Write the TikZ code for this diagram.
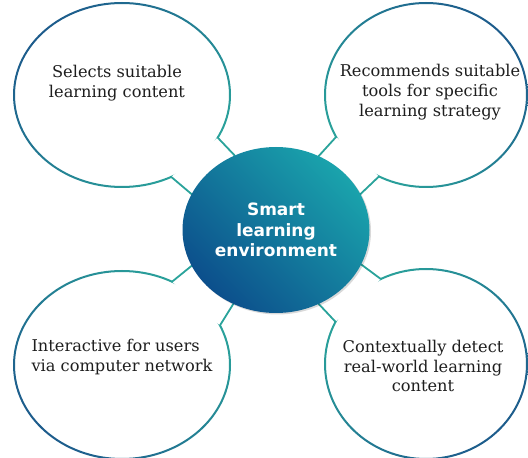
\documentclass[tikz,border=0pt]{standalone}
\usepackage{fontspec}
\setmainfont{DejaVu Serif}
\newfontfamily\censans{DejaVu Sans}
\usetikzlibrary{shapes.geometric,backgrounds,shadows}
\definecolor{deepblue}{HTML}{0C4F8C}
\definecolor{tealtop}{HTML}{1AA3AC}
\definecolor{rimblue}{HTML}{1D5C8C}
\definecolor{rimteal}{HTML}{2AA39B}
\definecolor{txt}{HTML}{1E1E1E}
\begin{document}
\begin{tikzpicture}[x=1pt,y=1pt,
  bubble/.style={ellipse, fill=white, inner sep=0pt, outer sep=0pt},
  btext/.style={font=\fontsize{16.2}{19.8}\selectfont, text=txt, align=center, inner sep=0pt},
  tail/.style={draw=rimteal, line width=1.8pt, line cap=round},
  gapfill/.style={fill=white},
  hub/.style={ellipse, inner sep=0pt, outer sep=0pt, left color=deepblue, right color=tealtop, shading angle=135,
    drop shadow={shadow xshift=1.5pt, shadow yshift=-1.5pt, opacity=0.15, fill=black},
    font=\censans\bfseries\fontsize{17}{20.5}\selectfont, text=white, align=center}
]
\useasboundingbox (0,0) rectangle (528,458);
\node[hub, minimum width=187pt, minimum height=166pt] (c) at (276,228) {Smart\\learning\\environment};
\begin{scope}[on background layer]
  \node[bubble, minimum width=216pt, minimum height=184pt] (tl) at (122,363) {};
  \node[bubble, minimum width=202pt, minimum height=184pt] (tr) at (426,363) {};
  \node[bubble, minimum width=216pt, minimum height=188pt] (bl) at (122,93) {};
  \node[bubble, minimum width=202pt, minimum height=190pt] (br) at (426,94) {};
  % rims
  \shade[left color=rimblue, right color=rimteal, shading angle=45, even odd rule]
    (tl.center) ellipse [x radius=109pt, y radius=93pt]
    (tl.center) ellipse [x radius=107pt, y radius=91pt];
  \shade[left color=rimteal, right color=rimblue, shading angle=135, even odd rule]
    (tr.center) ellipse [x radius=102pt, y radius=93pt]
    (tr.center) ellipse [x radius=100pt, y radius=91pt];
  \shade[left color=rimblue, right color=rimteal, shading angle=135, even odd rule]
    (bl.center) ellipse [x radius=109pt, y radius=95pt]
    (bl.center) ellipse [x radius=107pt, y radius=93pt];
  \shade[left color=rimteal, right color=rimblue, shading angle=45, even odd rule]
    (br.center) ellipse [x radius=102pt, y radius=96pt]
    (br.center) ellipse [x radius=100pt, y radius=94pt];
  % gaps
  \fill[gapfill] (tl.-24) -- (c.119) -- (c.157) -- (tl.-59) -- cycle;
  \fill[gapfill] (tr.205) -- (c.60) -- (c.23) -- (tr.240) -- cycle;
  \fill[gapfill] (bl.22) -- (c.240) -- (c.203) -- (bl.59) -- cycle;
  \fill[gapfill] (br.118) -- (c.-22) -- (c.-60) -- (br.155) -- cycle;
  % tails
  \draw[tail] (tl.-24) -- (c.119);
  \draw[tail] (tl.-59) -- (c.157);
  \draw[tail] (tr.205) -- (c.60);
  \draw[tail] (tr.240) -- (c.23);
  \draw[tail] (bl.22) -- (c.240);
  \draw[tail] (bl.59) -- (c.203);
  \draw[tail] (br.118) -- (c.-22);
  \draw[tail] (br.155) -- (c.-60);
\end{scope}
\node[btext] (t1) at (117,375) {Selects suitable\\learning content};
\node[btext] (t2) at (430,366) {Recommends suitable\\tools for specific\\learning strategy};
\node[btext, align=left] (t3) at (122,101) {Interactive for users\\via computer network};
\node[btext] (t4) at (423,92) {Contextually detect\\real-world learning\\content};
\end{tikzpicture}
\end{document}
